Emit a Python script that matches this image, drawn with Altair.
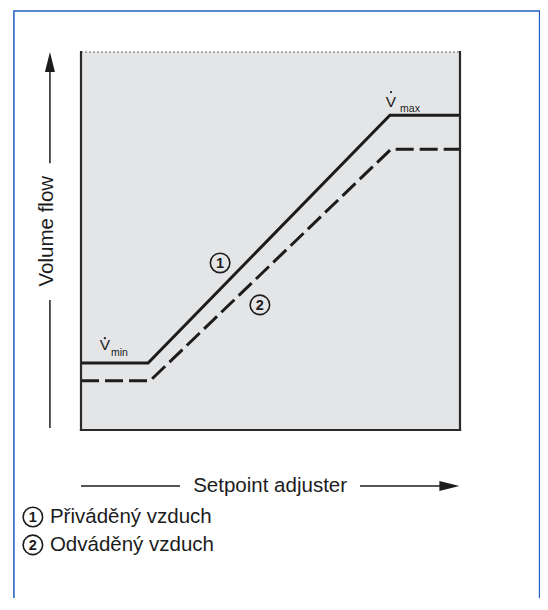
import altair as alt
import pandas as pd

# ---- data (x = setpoint adjuster 0-100 %, y = volume flow 0-100 %) ----
setpoint_supply = [0, 17.7, 81.5, 100]
flow_supply = [17.7, 17.7, 83.3, 83.3]
setpoint_exhaust = [0, 18.2, 81.8, 100]
flow_exhaust = [13.0, 13.0, 74.3, 74.3]

marker_digits = ["1", "2"]
marker_x = [36.7, 47.2]
marker_y = [44.2, 33.1]

legend_digits = ["1", "2"]
legend_texts = ["Přiváděný vzduch", "Odváděný vzduch"]
legend_x = [-12.7, -12.7]
legend_text_x = [-8.2, -8.2]
legend_y = [-23.0, -30.4]

vdot_names = ["min", "max"]
vdot_x = [6.3, 81.8]
vdot_base_y = [21.2, 85.5]
vdot_dot_y = [24.3, 89.4]
vsub_x = [7.9, 84.2]
vsub_y = [19.6, 84.1]

# frame of the plotting area
frame_x = [0, 0, 100]
frame_y = [0, 0, 0]
frame_x2 = [0, 100, 100]
frame_y2 = [100, 0, 100]

# arrow shafts of the two axis descriptions
shaft_x = [-8.2, -8.2, 0, 73.6]
shaft_y = [0.5, 70.6, -14.8, -14.8]
shaft_x2 = [-8.2, -8.2, 26.1, 94.7]
shaft_y2 = [34.4, 94.7, -14.8, -14.8]

head_up = {"x": [-8.2], "y": [97.35]}
head_right = {"x": [97.2], "y": [-14.8]}

axis_titles = ["Volume flow", "Setpoint adjuster"]
axis_title_x = [-8.85, 49.9]
axis_title_y = [52.6, -14.8]

outer_box = {"x": [-17.7], "x2": [121.0], "y": [-50.0], "y2": [110.85]}

FONT = "Liberation Sans"
INK = "#1c1c1c"

xs = alt.Scale(domain=[0, 100], nice=False, zero=False)
ys = alt.Scale(domain=[0, 100], nice=False, zero=False)
X = lambda f="x": alt.X(f + ":Q", scale=xs, axis=None)
Y = lambda f="y": alt.Y(f + ":Q", scale=ys, axis=None)

box = alt.Chart(pd.DataFrame(outer_box)).mark_rect(
    fillOpacity=0, stroke="#1f5fbf", strokeWidth=1.5
).encode(x=X(), x2="x2:Q", y=Y(), y2="y2:Q")

frame = alt.Chart(pd.DataFrame({"x": frame_x, "y": frame_y, "x2": frame_x2, "y2": frame_y2})).mark_rule(
    color="#2a2a2a", strokeWidth=2.2, strokeCap="square"
).encode(x=X(), y=Y(), x2="x2:Q", y2="y2:Q")

top_edge = alt.Chart(pd.DataFrame({"x": [0], "x2": [100], "y": [100]})).mark_rule(
    color="#666666", strokeWidth=1, strokeDash=[2, 2]
).encode(x=X(), x2="x2:Q", y=Y())

supply = alt.Chart(pd.DataFrame({"x": setpoint_supply, "y": flow_supply})).mark_line(
    color=INK, strokeWidth=3, strokeJoin="miter"
).encode(x=X(), y=Y())

exhaust = alt.Chart(pd.DataFrame({"x": setpoint_exhaust, "y": flow_exhaust})).mark_line(
    color=INK, strokeWidth=3, strokeDash=[18, 6], strokeJoin="miter"
).encode(x=X(), y=Y())

shafts = alt.Chart(pd.DataFrame({"x": shaft_x, "y": shaft_y, "x2": shaft_x2, "y2": shaft_y2})).mark_rule(
    color=INK, strokeWidth=1.5
).encode(x=X(), y=Y(), x2="x2:Q", y2="y2:Q")

up = alt.Chart(pd.DataFrame(head_up)).mark_point(
    shape="M-0.5,1L0,-1L0.5,1Z", size=400, filled=True, color=INK, opacity=1
).encode(x=X(), y=Y())

right = alt.Chart(pd.DataFrame(head_right)).mark_point(
    shape="M-1,-0.5L1,0L-1,0.5Z", size=400, filled=True, color=INK, opacity=1
).encode(x=X(), y=Y())

titles_df = pd.DataFrame({"t": axis_titles, "x": axis_title_x, "y": axis_title_y})
title_v = alt.Chart(titles_df.iloc[[0]]).mark_text(
    font=FONT, fontSize=20.5, color=INK, angle=270, align="center", baseline="middle"
).encode(x=X(), y=Y(), text="t:N")
title_h = alt.Chart(titles_df.iloc[[1]]).mark_text(
    font=FONT, fontSize=20.5, color=INK, align="center", baseline="middle"
).encode(x=X(), y=Y(), text="t:N")

vdf = pd.DataFrame({"n": vdot_names, "x": vdot_x, "y": vdot_base_y, "dy": vdot_dot_y,
                    "sx": vsub_x, "sy": vsub_y, "v": ["V", "V"]})
v_letter = alt.Chart(vdf).mark_text(
    font=FONT, fontSize=15.5, color=INK, align="center", baseline="alphabetic"
).encode(x=X(), y=Y(), text="v:N")
v_dot = alt.Chart(vdf).mark_point(
    shape="circle", size=5, filled=True, color=INK, opacity=1
).encode(x=X(), y=Y("dy"))
v_sub = alt.Chart(vdf).mark_text(
    font=FONT, fontSize=10.5, color=INK, align="left", baseline="alphabetic"
).encode(x=X("sx"), y=Y("sy"), text="n:N")

circ_df = pd.DataFrame({
    "d": marker_digits + legend_digits,
    "x": marker_x + legend_x,
    "y": marker_y + legend_y,
})
circles = alt.Chart(circ_df).mark_point(
    shape="circle", size=380, filled=False, stroke=INK, strokeWidth=1.6, opacity=1
).encode(x=X(), y=Y())
digits = alt.Chart(circ_df).mark_text(
    font=FONT, fontSize=14.5, fontWeight="bold", color=INK, align="center", baseline="middle", dy=1
).encode(x=X(), y=Y(), text="d:N")

legend = alt.Chart(pd.DataFrame({"t": legend_texts, "x": legend_text_x, "y": legend_y})).mark_text(
    font=FONT, fontSize=20.5, color=INK, align="left", baseline="middle"
).encode(x=X(), y=Y(), text="t:N")

chart = alt.layer(
    box, top_edge, supply, exhaust, frame, shafts, up, right, title_v, title_h,
    v_letter, v_dot, v_sub, circles, digits, legend
).properties(
    width=379, height=378,
    padding={"left": 73, "top": 44, "right": 80, "bottom": 168},
    autosize=alt.AutoSizeParams(type="none"),
    background="white",
).configure_view(strokeWidth=0, fill="#e4e5e7")

chart.save("out.html", embed_options={"renderer": "svg", "actions": False})
